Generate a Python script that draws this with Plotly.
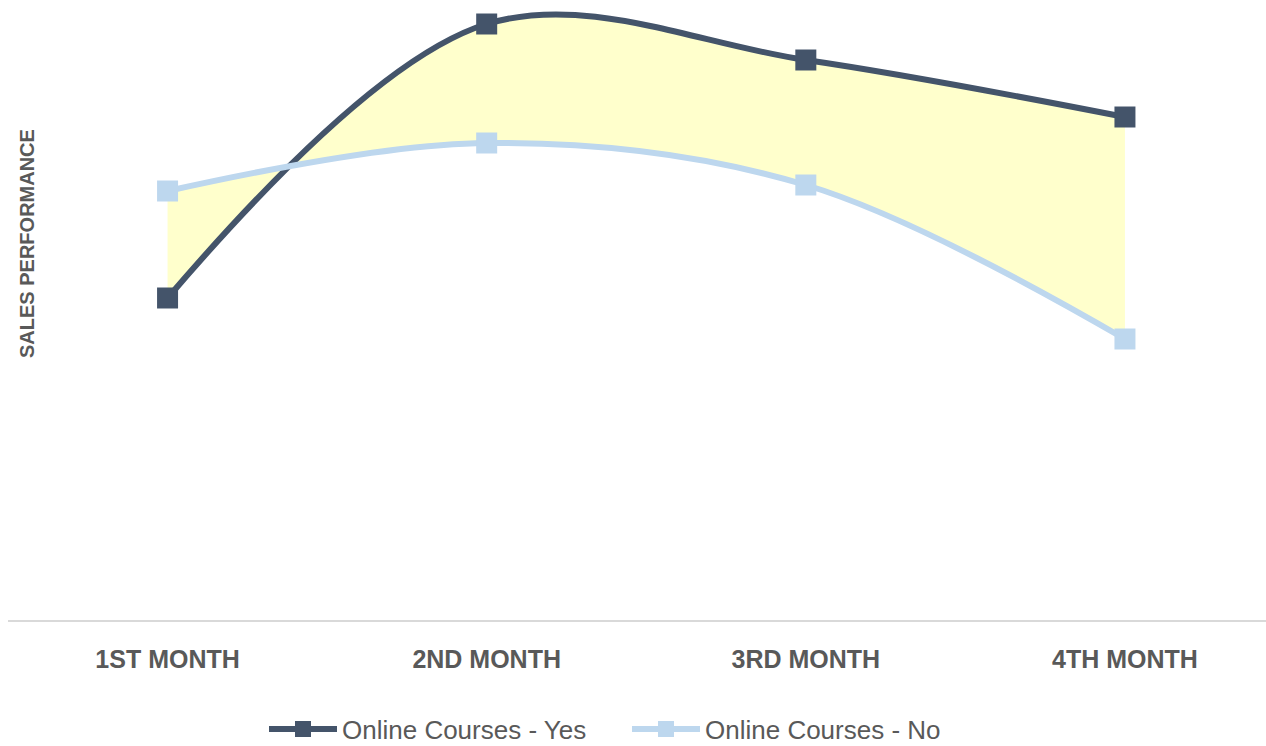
import plotly.graph_objects as go

months = ["1ST MONTH", "2ND MONTH", "3RD MONTH", "4TH MONTH"]
online_yes = [3.22, 5.96, 5.60, 5.03]
online_no = [4.29, 4.77, 4.35, 2.81]

YES_COLOR = "#44546A"
NO_COLOR = "#BDD7EE"
FILL_COLOR = "#FFFFCC"
TEXT_COLOR = "#595959"

fig = go.Figure()

# shaded band between the two smoothed series
fig.add_trace(go.Scatter(
    x=months, y=online_no, mode="lines",
    line=dict(width=0, shape="spline", color=NO_COLOR),
    showlegend=False, hoverinfo="skip"))
fig.add_trace(go.Scatter(
    x=months, y=online_yes, mode="lines",
    line=dict(width=0, shape="spline", color=YES_COLOR),
    fill="tonexty", fillcolor=FILL_COLOR,
    showlegend=False, hoverinfo="skip"))

# the two series
fig.add_trace(go.Scatter(
    x=months, y=online_yes, mode="lines+markers", name="Online Courses - Yes",
    line=dict(width=6, shape="spline", color=YES_COLOR),
    marker=dict(symbol="square", size=21, color=YES_COLOR)))
fig.add_trace(go.Scatter(
    x=months, y=online_no, mode="lines+markers", name="Online Courses - No",
    line=dict(width=6, shape="spline", color=NO_COLOR),
    marker=dict(symbol="square", size=21, color=NO_COLOR)))

fig.update_layout(
    width=1266, height=746,
    margin=dict(l=8, r=0, t=0, b=126),
    paper_bgcolor="white", plot_bgcolor="white",
    showlegend=True,
    legend=dict(
        orientation="h", xref="container", yref="container",
        x=264 / 1266, y=(746 - 729) / 746, xanchor="left", yanchor="middle",
        font=dict(family="Liberation Sans, Arial, sans-serif",
                  size=26, color=TEXT_COLOR),
        traceorder="normal", itemwidth=68, entrywidth=280),
    xaxis=dict(
        type="category", range=[-0.5, 3.442],
        showgrid=False, zeroline=False,
        showline=True, linecolor="#D9D9D9", linewidth=2,
        ticks="", ticklabelstandoff=16,
        tickfont=dict(family="Liberation Sans, Arial, sans-serif",
                      size=25, color=TEXT_COLOR, weight="bold")),
    yaxis=dict(
        range=[0, 6.2], showgrid=False, zeroline=False,
        showline=False, showticklabels=False, ticks=""),
    annotations=[dict(
        text="<b>SALES PERFORMANCE</b>", textangle=-90,
        xref="paper", yref="paper", x=(27 - 8) / 1258, y=(620 - 244) / 620,
        xanchor="center", yanchor="middle", showarrow=False,
        font=dict(family="Liberation Sans, Arial, sans-serif", size=20,
                  color=TEXT_COLOR))],
)

fig.write_html("out.html")
